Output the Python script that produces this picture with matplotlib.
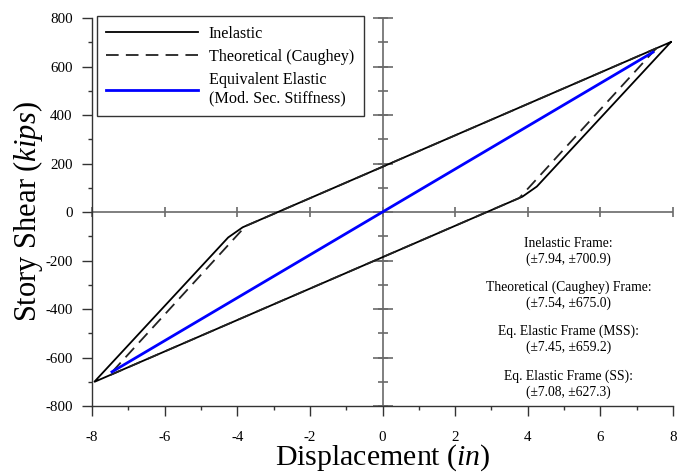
import numpy as np
import matplotlib
matplotlib.use("Agg")
import matplotlib.pyplot as plt
from matplotlib.lines import Line2D

plt.rcParams["font.family"] = ["Liberation Serif", "DejaVu Serif"]
plt.rcParams["axes.unicode_minus"] = False
plt.rcParams["mathtext.fontset"] = "custom"
plt.rcParams["mathtext.rm"] = "Liberation Serif"
plt.rcParams["mathtext.it"] = "Liberation Serif:italic"

# Hysteresis loops (displacement in inches, story shear in kips)
inelastic_x = [7.94, 4.25, 3.85, -7.94, -4.25, -3.85, 7.94]
inelastic_y = [700.9, 105.0, 63.0, -700.9, -105.0, -63.0, 700.9]

caughey_x = [7.54, 3.77, -7.54, -3.77, 7.54]
caughey_y = [675.0, 58.0, -675.0, -58.0, 675.0]

eq_elastic_x = [-7.45, 7.45]
eq_elastic_y = [-659.2, 659.2]

legend_labels = ["Inelastic", "Theoretical (Caughey)",
                 "Equivalent Elastic\n(Mod. Sec. Stiffness)"]

peak_titles = ["Inelastic Frame:", "Theoretical (Caughey) Frame:",
               "Eq. Elastic Frame (MSS):", "Eq. Elastic Frame (SS):"]
peak_disp = [7.94, 7.54, 7.45, 7.08]
peak_shear = [700.9, 675.0, 659.2, 627.3]

x_major = np.arange(-8, 9, 2)
x_minor = np.arange(-8, 9, 1)
y_major = np.arange(-800, 801, 200)
y_minor = np.arange(-800, 801, 100)

fig = plt.figure(figsize=(6.77, 4.73), dpi=100)
ax = fig.add_axes([92 / 677, 1 - 406 / 473, 581 / 677, 388 / 473])

# Origin axes through (0, 0) with their own tick marks
axis_grey = "#6a6a6a"
ax.axhline(0, color=axis_grey, lw=1.2, zorder=1)
ax.axvline(0, color=axis_grey, lw=1.2, zorder=1)
ax.plot(x_major, np.zeros_like(x_major), ls="none", marker="|",
        ms=7.5, mew=1.2, color=axis_grey, zorder=1, clip_on=False)
ax.plot(np.zeros_like(y_minor), y_minor, ls="none", marker="_",
        ms=7.5, mew=1.2, color=axis_grey, zorder=1, clip_on=False)
ax.plot(np.zeros_like(y_major), y_major, ls="none", marker="_",
        ms=14.5, mew=1.2, color=axis_grey, zorder=1, clip_on=False)

ax.plot(inelastic_x, inelastic_y, color="black", lw=1.3, zorder=3,
        solid_joinstyle="miter")
ax.plot(caughey_x, caughey_y, color="#222222", lw=1.3, dashes=(7, 4),
        zorder=3)
ax.plot(eq_elastic_x, eq_elastic_y, color="#0000ff", lw=2.0, zorder=4)

ax.set_xlim(-8, 8)
ax.set_ylim(-800, 800)
ax.set_xticks(x_major)
ax.set_xticks(x_minor, minor=True)
ax.set_yticks(y_major)
ax.set_yticks(y_minor, minor=True)
ax.set_xticklabels([f"{v:d}" for v in x_major])
ax.set_yticklabels([f"{v:d}" for v in y_major])

for side in ("top", "right"):
    ax.spines[side].set_visible(False)
for side in ("left", "bottom"):
    ax.spines[side].set_color("#333333")
    ax.spines[side].set_linewidth(1.0)

ax.tick_params(axis="both", which="major", direction="out", length=7,
               width=1.0, color="#333333", labelsize=10.8)
ax.tick_params(axis="both", which="minor", direction="out", length=3.2,
               width=1.0, color="#333333")
ax.tick_params(axis="x", which="major", pad=11)
ax.tick_params(axis="y", which="major", pad=7)

ax.set_xlabel(r"Displacement ($in$)", fontsize=21.5, labelpad=-1)
ax.set_ylabel(r"Story Shear ($kips$)", fontsize=22, labelpad=0)

handles = [
    Line2D([], [], color="black", lw=1.3),
    Line2D([], [], color="#222222", lw=1.3, dashes=(7, 4)),
    Line2D([], [], color="#0000ff", lw=2.0),
]
leg = ax.legend(handles, legend_labels, loc="upper left",
                bbox_to_anchor=(0.008, 1.005), borderaxespad=0,
                fontsize=11.6, handlelength=5.7, handletextpad=0.65,
                labelspacing=0.45, borderpad=0.6, fancybox=False,
                framealpha=1, edgecolor="#333333")
leg.get_frame().set_linewidth(1.0)

# Peak response summary
block_y = [0.399, 0.285, 0.171, 0.055]
for title, d, v, yy in zip(peak_titles, peak_disp, peak_shear, block_y):
    ax.text(0.82, yy, f"{title}\n(\u00b1{d:.2f}, \u00b1{v:.1f})",
            transform=ax.transAxes, ha="center", va="center",
            fontsize=9.8, linespacing=1.25)

fig.savefig("out.png", dpi=100)
